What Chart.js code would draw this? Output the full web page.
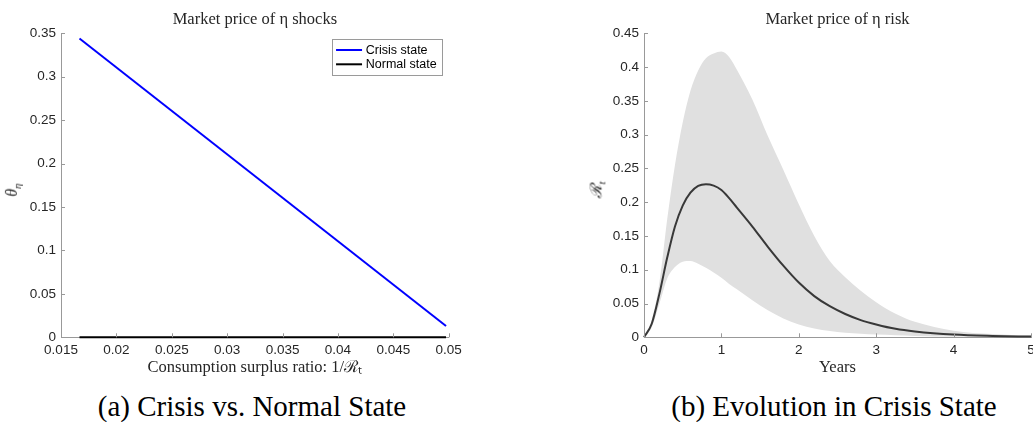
<!DOCTYPE html>
<html>
<head>
<meta charset="utf-8">
<script src="https://cdn.jsdelivr.net/npm/chart.js@4.4.0/dist/chart.umd.min.js"></script>
<style>
  html, body { margin: 0; padding: 0; background: #fff; overflow: hidden; width: 1033px; height: 422px; }
  canvas { position: absolute; top: 0; }
  #leftChart { left: 0; }
  #rightChart { left: 520px; }
  .ylab {
    position: absolute; font-family: "Liberation Serif", serif; font-style: italic;
    font-size: 16px; color: #262626; white-space: nowrap;
    transform: translate(-50%, -50%) rotate(-90deg);
  }
  .ylab sub { font-size: 11px; }
  .caption {
    position: absolute; font-family: "Liberation Serif", serif; font-size: 29px;
    line-height: 29px; color: #000; white-space: nowrap; transform: translateX(-50%);
  }
</style>
</head>
<body>
<canvas id="leftChart" width="516" height="390"></canvas>
<canvas id="rightChart" width="530" height="390"></canvas>
<div class="ylab" style="left:12.5px; top:190px;">θ<sub>η</sub></div>
<div class="ylab" style="left:596px; top:190px;">ℛ<sub>t</sub></div>
<div class="caption" style="left:252px; top:392px;">(a) Crisis vs. Normal State</div>
<div class="caption" style="left:834px; top:392px;">(b) Evolution in Crisis State</div>
<script>
// --- Panel (a): market price of eta shocks ---
const surplusRatio = [0.01667, 0.04976];
const crisisTheta = [0.3440, 0.0130];
const normalTheta = [0, 0];
const leftXTicks = [0.015, 0.02, 0.025, 0.03, 0.035, 0.04, 0.045, 0.05];
const leftYTicks = [0, 0.05, 0.1, 0.15, 0.2, 0.25, 0.3, 0.35];

// --- Panel (b): evolution in crisis state ---
const years     = [0, 0.1, 0.2, 0.3, 0.4, 0.5, 0.6, 0.7, 0.8, 0.9, 1.0, 1.1, 1.2, 1.4, 1.6, 1.8, 2.0, 2.2, 2.4, 2.6, 2.8, 3.0, 3.25, 3.5, 4.0, 4.5, 5.0];
const riskMean  = [0, 0.020, 0.065, 0.118, 0.164, 0.195, 0.214, 0.224, 0.2266, 0.2245, 0.218, 0.206, 0.192, 0.164, 0.134, 0.106, 0.081, 0.061, 0.046, 0.0345, 0.0255, 0.019, 0.0125, 0.0086, 0.004, 0.002, 0.001];
const riskUpper = [0, 0.026, 0.082, 0.175, 0.255, 0.318, 0.365, 0.395, 0.413, 0.420, 0.423, 0.415, 0.396, 0.352, 0.298, 0.248, 0.197, 0.150, 0.113, 0.089, 0.069, 0.052, 0.035, 0.023, 0.0098, 0.0048, 0.0025];
const riskLower = [0, 0.015, 0.050, 0.087, 0.104, 0.112, 0.113, 0.109, 0.103, 0.096, 0.088, 0.079, 0.071, 0.055, 0.040, 0.028, 0.019, 0.013, 0.0092, 0.0068, 0.0052, 0.004, 0.003, 0.002, 0.001, 0.0005, 0];
const rightXTicks = [0, 1, 2, 3, 4, 5];
const rightYTicks = [0, 0.05, 0.1, 0.15, 0.2, 0.25, 0.3, 0.35, 0.4, 0.45];

const AXIS_COLOR = '#999999';
const TEXT_COLOR = '#262626';
const tickFont = { family: '"Liberation Sans", Arial, sans-serif', size: 13.5 };
const serifFont = { family: '"Liberation Serif", serif', size: 16.5, weight: 'normal' };

function toPoints(xs, ys) {
    return xs.map((x, i) => ({ x: x, y: ys[i] }));
}

// MATLAB style: short tick marks pointing into the plot
const inwardTicks = {
    id: 'inwardTicks',
    afterDatasetsDraw(chart) {
        const { ctx, chartArea: a, scales: { x, y } } = chart;
        ctx.save();
        ctx.strokeStyle = AXIS_COLOR;
        ctx.lineWidth = 1;
        ctx.beginPath();
        x.ticks.forEach(t => {
            const px = Math.round(x.getPixelForValue(t.value)) + 0.5;
            ctx.moveTo(px, a.bottom);
            ctx.lineTo(px, a.bottom - 4);
        });
        y.ticks.forEach(t => {
            const py = Math.round(y.getPixelForValue(t.value)) + 0.5;
            ctx.moveTo(a.left, py);
            ctx.lineTo(a.left + 4, py);
        });
        ctx.stroke();
        ctx.restore();
    }
};

// legend with a frame, placed inside the plot at the top right
const boxedLegend = {
    id: 'boxedLegend',
    afterDatasetsDraw(chart, args, opts) {
        if (!opts.display) return;
        const { ctx, chartArea: a } = chart;
        const items = chart.data.datasets;
        ctx.save();
        ctx.font = '12.5px "Liberation Sans", Arial, sans-serif';
        const textW = Math.max(...items.map(d => ctx.measureText(d.label).width));
        const w = 3.7 + 26 + 3.7 + textW + 5.7;
        const h = 35.7;
        const left = a.right - 6.4 - w;
        const top = a.top + 5.7;
        ctx.fillStyle = '#fff';
        ctx.fillRect(left, top, w, h);
        ctx.strokeStyle = '#9a9a9a';
        ctx.lineWidth = 1;
        ctx.strokeRect(Math.round(left) + 0.5, Math.round(top) + 0.5, Math.round(w), Math.round(h));
        items.forEach((d, i) => {
            const cy = top + 11 + i * 14.3;
            ctx.strokeStyle = d.borderColor;
            ctx.lineWidth = 2;
            ctx.beginPath();
            ctx.moveTo(left + 3.7, cy);
            ctx.lineTo(left + 29.7, cy);
            ctx.stroke();
            ctx.fillStyle = '#000';
            ctx.textBaseline = 'middle';
            ctx.fillText(d.label, left + 33.4, cy + 0.5);
        });
        ctx.restore();
    }
};

function axisOptions(tickValues, min, max, size, titleText) {
    const opts = {
        type: 'linear',
        min: min,
        max: max,
        afterBuildTicks: (scale) => { scale.ticks = tickValues.map(v => ({ value: v })); },
        grid: { display: false, drawTicks: false },
        border: { display: true, color: AXIS_COLOR, width: 1 },
        ticks: {
            color: TEXT_COLOR,
            font: tickFont,
            maxRotation: 0,
            autoSkip: false,
            padding: 5,
            callback: (v) => String(v)
        }
    };
    if (titleText) {
        opts.afterFit = (scale) => { scale.height = size; };
        opts.title = {
            display: true,
            text: titleText,
            color: TEXT_COLOR,
            font: serifFont,
            padding: { top: 0, bottom: 12 }
        };
    } else {
        opts.afterFit = (scale) => { scale.width = size; };
    }
    return opts;
}

// fullSize false keeps the title centred over the plot area, like MATLAB
function chartTitle(text) {
    return {
        display: true,
        fullSize: false,
        text: text,
        color: TEXT_COLOR,
        font: serifFont,
        padding: { top: 10.1, bottom: 3.4 }
    };
}

new Chart(document.getElementById('leftChart'), {
    type: 'line',
    data: {
        datasets: [{
            label: 'Crisis state',
            data: toPoints(surplusRatio, crisisTheta),
            borderColor: '#0000ff',
            borderWidth: 2,
            pointRadius: 0,
            clip: false
        }, {
            label: 'Normal state',
            data: toPoints(surplusRatio, normalTheta),
            borderColor: '#000000',
            borderWidth: 2,
            pointRadius: 0,
            clip: false
        }]
    },
    options: {
        responsive: false,
        animation: false,
        devicePixelRatio: 1,
        events: [],
        layout: { padding: { left: 0, right: 67.3, top: 0, bottom: 0 } },
        plugins: {
            legend: { display: false },
            tooltip: { enabled: false },
            title: chartTitle('Market price of η shocks'),
            boxedLegend: { display: true }
        },
        scales: {
            x: axisOptions(leftXTicks, 0.015, 0.05, 52.7, 'Consumption surplus ratio: 1/ℛₜ'),
            y: axisOptions(leftYTicks, 0, 0.35, 61)
        }
    },
    plugins: [inwardTicks, boxedLegend]
});

new Chart(document.getElementById('rightChart'), {
    type: 'line',
    data: {
        datasets: [{
            label: 'Mean',
            data: toPoints(years, riskMean),
            borderColor: '#383838',
            borderWidth: 2,
            pointRadius: 0,
            cubicInterpolationMode: 'monotone',
            fill: false,
            clip: false
        }, {
            label: 'Upper band',
            data: toPoints(years, riskUpper),
            borderWidth: 0,
            borderColor: 'rgba(0,0,0,0)',
            backgroundColor: '#e0e0e0',
            pointRadius: 0,
            cubicInterpolationMode: 'monotone',
            fill: '+1'
        }, {
            label: 'Lower band',
            data: toPoints(years, riskLower),
            borderWidth: 0,
            borderColor: 'rgba(0,0,0,0)',
            pointRadius: 0,
            cubicInterpolationMode: 'monotone',
            fill: false
        }]
    },
    options: {
        responsive: false,
        animation: false,
        devicePixelRatio: 1,
        events: [],
        layout: { padding: { left: 0, right: 19, top: 0, bottom: 0 } },
        plugins: {
            legend: { display: false },
            tooltip: { enabled: false },
            title: chartTitle('Market price of η risk'),
            boxedLegend: { display: false }
        },
        scales: {
            x: axisOptions(rightXTicks, 0, 5, 52.7, 'Years'),
            y: axisOptions(rightYTicks, 0, 0.45, 124)
        }
    },
    plugins: [inwardTicks, boxedLegend]
});
</script>
</body>
</html>
